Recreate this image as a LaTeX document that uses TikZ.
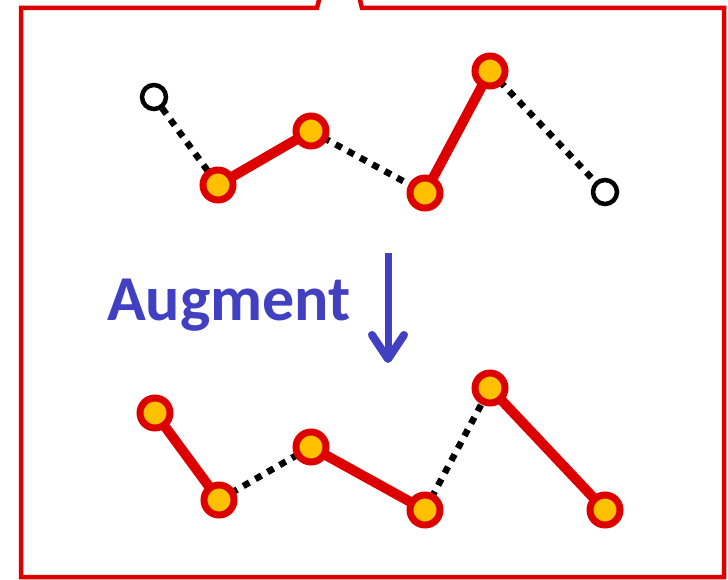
\documentclass[tikz,border=0pt]{standalone}
\usepackage{fontspec}
\newfontfamily\augfont{Carlito}
\usepackage{tikz}
\usetikzlibrary{arrows.meta}

\definecolor{pathred}{RGB}{221,0,0}
\definecolor{nodegold}{RGB}{255,192,0}
\definecolor{augblue}{RGB}{64,64,192}

\pgfdeclarelayer{bg}
\pgfsetlayers{bg,main}

\begin{document}
\begin{tikzpicture}[x=1pt, y=-1pt,
  kept/.style={circle, draw=pathred, fill=nodegold, line width=7pt,
               minimum size=30pt, inner sep=0pt},
  hollow/.style={circle, draw=black, fill=white, line width=4.5pt,
                 minimum size=24pt, inner sep=0pt},
  link/.style={draw=pathred, line width=10pt},
  gap/.style={draw=black, line width=6.5pt, dash pattern=on 7pt off 7pt},
  frame/.style={draw=pathred, line width=4.5pt}
]
  \useasboundingbox (0,0) rectangle (728,580);
  \clip (0,0) rectangle (728,580);

  % callout frame
  \draw[frame] (322,-12) -- (317,8) -- (21,8) -- (21,577) -- (724,577)
    -- (724,8) -- (362,8) -- (357,-12);

  % top row
  \node[hollow] (a1) at (154,97)  {};
  \node[kept]   (a2) at (218,185) {};
  \node[kept]   (a3) at (311,131) {};
  \node[kept]   (a4) at (425,193) {};
  \node[kept]   (a5) at (490,71)  {};
  \node[hollow] (a6) at (605,192) {};

  % bottom row
  \node[kept] (b1) at (155,413) {};
  \node[kept] (b2) at (219,500) {};
  \node[kept] (b3) at (311,447) {};
  \node[kept] (b4) at (425,510) {};
  \node[kept] (b5) at (490,388) {};
  \node[kept] (b6) at (605,510) {};

  \begin{pgfonlayer}{bg}
    \path[gap]  (a1.center) -- (a2.center);
    \path[link] (a2.center) -- (a3.center);
    \path[gap]  (a3.center) -- (a4.center);
    \path[link] (a4.center) -- (a5.center);
    \path[gap]  (a5.center) -- (a6.center);

    \path[link] (b1.center) -- (b2.center);
    \path[gap]  (b2.center) -- (b3.center);
    \path[link] (b3.center) -- (b4.center);
    \path[gap]  (b4.center) -- (b5.center);
    \path[link] (b5.center) -- (b6.center);
  \end{pgfonlayer}

  % label and arrow
  \node[font=\augfont\bfseries\fontsize{64}{66}\selectfont, text=augblue,
        anchor=base west, inner sep=0pt] (aug) at (107,320) {Augment};
  \coordinate (down0) at (388,253);
  \coordinate (down1) at (388,363);
  \draw[augblue, line width=7pt,
        -{Straight Barb[length=24pt, width=32pt, line width=8pt,
          line cap=round, line join=round]}]
    (down0) -- (down1);
\end{tikzpicture}
\end{document}
